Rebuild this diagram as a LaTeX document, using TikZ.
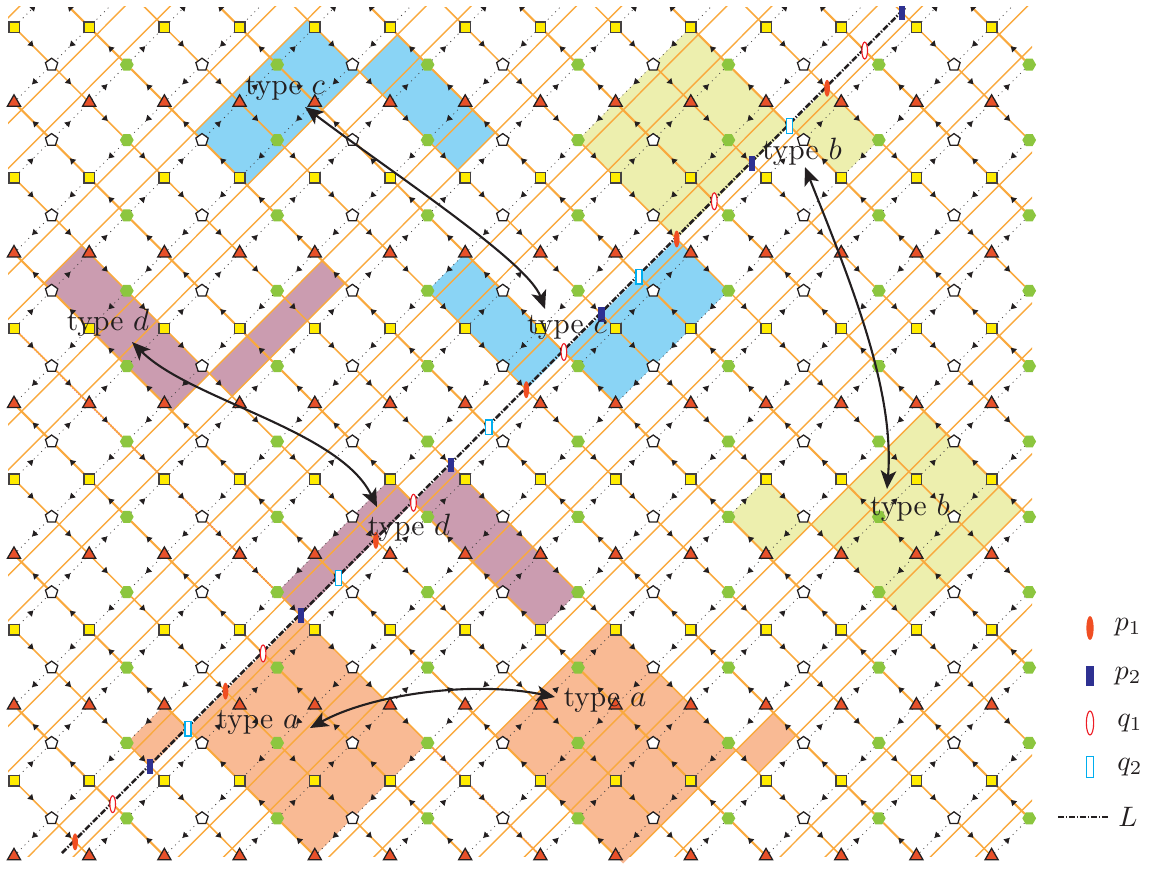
\documentclass[tikz,border=0pt]{standalone}
\usepackage{xcolor}
\usepackage{tikz}
\usetikzlibrary{shapes.geometric,arrows.meta,decorations.markings}

\definecolor{siteyellow}{HTML}{FFEC00}
\definecolor{sitered}{HTML}{E8512A}
\definecolor{sitegreen}{HTML}{8CC63F}
\definecolor{latorange}{HTML}{F9A93E}
\definecolor{regiona}{HTML}{F9BA94}
\definecolor{regionb}{HTML}{EDEFAE}
\definecolor{regionc}{HTML}{8AD4F5}
\definecolor{regiond}{HTML}{CB9CB0}
\definecolor{inkdark}{HTML}{231F20}
\definecolor{markpone}{HTML}{F04E23}
\definecolor{markptwo}{HTML}{2E3192}
\definecolor{markqone}{HTML}{ED1C24}
\definecolor{markqtwo}{HTML}{00AEEF}

\pgfdeclarelayer{fills}
\pgfdeclarelayer{lines}
\pgfsetlayers{fills,lines,main}

% s and d are the two diagonal lattice directions
\newcommand{\regionbox}[5]{%
  \fill[#1] ({14+37.6*(#2-(#4))/2},{27+37.68*(#2+(#4))/2})
    -- ({14+37.6*(#3-(#4))/2},{27+37.68*(#3+(#4))/2})
    -- ({14+37.6*(#3-(#5))/2},{27+37.68*(#3+(#5))/2})
    -- ({14+37.6*(#2-(#5))/2},{27+37.68*(#2+(#5))/2}) -- cycle;}

\begin{document}
\begin{tikzpicture}[
    x=.0125cm, y=-.0125cm,
    every node/.style={inner sep=0pt, outer sep=0pt, text=inkdark},
    site 0/.style={draw=inkdark!85, line width=.5pt, fill=siteyellow, rectangle, minimum size=3.7pt},
    site 1/.style={draw=inkdark, line width=.45pt, fill=white, regular polygon, regular polygon sides=5, minimum size=4.6pt},
    site 2/.style={draw=inkdark, line width=.45pt, fill=sitered, regular polygon, regular polygon sides=3, minimum size=5.4pt},
    site 3/.style={fill=sitegreen, regular polygon, regular polygon sides=6, minimum size=4.9pt},
    arrow mid/.style={postaction={decorate, decoration={markings,
        mark=at position .5 with {\arrow[inkdark]{Triangle[length=1.9pt,width=2.3pt]}}}}},
    down line/.style={draw=latorange, line width=.55pt, arrow mid},
    back line/.style={draw=latorange, line width=.75pt, arrow mid},
    dot line/.style={draw=inkdark!85, line width=.27pt, dash pattern=on .35pt off 1.5pt, arrow mid},
    cross line/.style={draw=latorange, line width=.5pt},
    marker p1/.style={ellipse, fill=markpone, minimum width=2pt, minimum height=6pt},
    marker p2/.style={rectangle, fill=markptwo, minimum width=2.2pt, minimum height=5.2pt},
    marker q1/.style={ellipse, draw=markqone, line width=.4pt, fill=white, minimum width=2pt, minimum height=6pt},
    marker q2/.style={rectangle, draw=markqtwo, line width=.5pt, fill=white, minimum width=2.2pt, minimum height=5.2pt},
    type label/.style={font=\fontsize{10.5}{12}\selectfont},
    swap arrow/.style={{Stealth[length=6.5pt,width=5.5pt,inset=1.6pt]}-{Stealth[length=6.5pt,width=5.5pt,inset=1.6pt]},
        draw=inkdark, fill=none, line width=.75pt}
  ]
  \useasboundingbox (0,0) rectangle (1165,869);

  % Regions
  \begin{pgfonlayer}{fills}
    \regionbox{regiona}{23.25}{30}{8}{14}
    \regionbox{regiona}{22}{23.25}{14}{16}
    \regionbox{regiona}{31.6}{38.4}{0}{6}
    \regionbox{regiona}{38.4}{39.6}{-2}{0}
    \regionbox{regionb}{18}{23.25}{-18}{-12}
    \regionbox{regionb}{23.25}{26}{-20}{-18}
    \regionbox{regionb}{32}{34.4}{-8}{-6}
    \regionbox{regionb}{34.4}{39.6}{-14}{-8}
    \regionbox{regionc}{7.6}{10.4}{-8}{-2}
    \regionbox{regionc}{10.4}{15.6}{-10}{-8}
    \regionbox{regionc}{18}{23.25}{-6}{-4}
    \regionbox{regionc}{23.25}{26}{-12}{-6}
    \regionbox{regiond}{7.6}{14.4}{4}{6}
    \regionbox{regiond}{14.4}{15.6}{-2}{4}
    \regionbox{regiond}{22}{23.25}{2}{8}
    \regionbox{regiond}{23.25}{30}{0}{2}
  \end{pgfonlayer}

  % Nodes
  \foreach \i in {1,3,...,27}
    \coordinate (v-\i--1) at ({14+37.6*\i},{27-37.68});
  \foreach \j in {0,...,22}{
    \foreach \i in {0,...,27}{
      \pgfmathtruncatemacro\even{mod(\i+\j,2)}
      \ifnum\even=0
        \pgfmathtruncatemacro\kind{mod(\j,2)==1 ? mod(\i,4) : mod(\j,4)}
        \node[site \kind] (v-\i-\j) at ({14+37.6*\i},{27+37.68*\j}) {};
      \fi
    }
  }

  % Edges
  \begin{pgfonlayer}{lines}
    \begin{scope}
      \clip (8,6) rectangle (1032,856);
      \foreach \s in {-0.4,2.4,3.6,6.4,7.6,10.4,11.6,14.4,15.6,18.4,19.6,22.4,23.6,26.4,27.6,30.4,31.6,34.4,35.6,38.4,39.6,42.4,43.6,46.4,47.6}{
        \coordinate (cl) at ({14+37.6*(\s+30)/2},{27+37.68*(\s-30)/2});
        \coordinate (cr) at ({14+37.6*(\s-30)/2},{27+37.68*(\s+30)/2});
        \draw[cross line] (cl) -- (cr);
      }
    \end{scope}
    % thin red trace along one lattice line
    \draw[magenta!70!red, line width=.6pt, dash pattern=on .4pt off .6pt]
      (v-0-8) -- (v-7-15);
    \draw[magenta!70!red, line width=.6pt, dash pattern=on .4pt off .6pt]
      (v-11-19) -- (v-14-22);
    \begin{scope}
      \clip (14,7) rectangle (1032,860);
      \foreach \j in {-1,...,21}{
        \foreach \i in {0,...,26}{
          \pgfmathtruncatemacro\even{mod(\i+\j+2,2)}
          \ifnum\even=0
            \pgfmathtruncatemacro\ii{\i+1}
            \pgfmathtruncatemacro\jj{\j+1}
            \pgfmathtruncatemacro\dirn{mod(\j-\i+40,4)}
            \ifnum\dirn=0
              \draw[down line] (v-\i-\j) -- (v-\ii-\jj);
            \else
              \draw[back line] (v-\ii-\jj) -- (v-\i-\j);
            \fi
          \fi
        }
      }
      \foreach \j in {0,...,22}{
        \foreach \i in {0,...,26}{
          \pgfmathtruncatemacro\even{mod(\i+\j,2)}
          \ifnum\even=0
            \pgfmathtruncatemacro\ii{\i+1}
            \pgfmathtruncatemacro\jj{\j-1}
            \pgfmathtruncatemacro\dirn{mod(\i+\j,4)}
            \ifnum\dirn=0
              \draw[dot line] (v-\i-\j) -- (v-\ii-\jj);
            \else
              \draw[dot line] (v-\ii-\jj) -- (v-\i-\j);
            \fi
          \fi
        }
      }
    \end{scope}
  \end{pgfonlayer}

  % Line L and its points
  \coordinate (Lbot) at (62,853);
  \coordinate (Ltop) at (905,8);
  \draw[inkdark, line width=.9pt, dash pattern=on 2.2pt off .6pt on .5pt off .6pt] (Lbot) -- (Ltop);
  \foreach \d/\kind in {20/p1,18/q1,16/p2,14/q2,12/p1,10/q1,8/p2,6/q2,4/p1,2/q1,0/p2,
                        -2/q2,-4/p1,-6/q1,-8/p2,-10/q2,-12/p1,-14/q1,-16/p2,-18/q2,-20/p1,-22/q1,-24/p2}
    \node[marker \kind] (m\d) at ({14+37.6*(23.25-(\d))/2},{27+37.68*(23.25+(\d))/2}) {};

  % Labels
  \node[type label] (ctop) at (285,88) {type $c$};
  \node[type label] (cmid) at (567,327) {type $c$};
  \node[type label] (btop) at (802,152) {type $b$};
  \node[type label] (bbot) at (910,508) {type $b$};
  \node[type label] (dtop) at (108,323) {type $d$};
  \node[type label] (dmid) at (409,528) {type $d$};
  \node[type label] (aleft) at (258,722) {type $a$};
  \node[type label] (aright) at (605,700) {type $a$};

  % Arrows between types
  \coordinate (ctip) at (305,107);
  \coordinate (ctap) at (545,309);
  \coordinate (btip) at (805,167);
  \coordinate (btap) at (887,489);
  \coordinate (dtip) at (132,342);
  \coordinate (dtap) at (377,507);
  \coordinate (atip) at (310,728);
  \coordinate (atap) at (555,697);
  \draw[swap arrow] (ctip) .. controls (395,175) and (528,262) .. (ctap);
  \draw[swap arrow] (btip) .. controls (850,280) and (895,390) .. (btap);
  \draw[swap arrow] (dtip) .. controls (190,400) and (340,430) .. (dtap);
  \draw[swap arrow] (atip) .. controls (370,695) and (470,680) .. (atap);

  % Legend
  \node[marker p1, minimum width=2.6pt, minimum height=8.5pt] (kp1) at (1090,628) {};
  \node[marker p2, minimum width=2.6pt, minimum height=7.4pt] (kp2) at (1090,676) {};
  \node[marker q1, minimum width=2.6pt, minimum height=8.5pt] (kq1) at (1090,723) {};
  \node[marker q2, minimum width=2.6pt, minimum height=7.4pt] (kq2) at (1090,767) {};
  \node (tp1) at (1128,627) {$p_1$};
  \node (tp2) at (1128,676) {$p_2$};
  \node (tq1) at (1130,723) {$q_1$};
  \node (tq2) at (1130,767) {$q_2$};
  \coordinate (La) at (1058,817);
  \coordinate (Lb) at (1108,817);
  \draw[inkdark, line width=.9pt, dash pattern=on 2.2pt off .6pt on .5pt off .6pt] (La) -- (Lb);
  \node (tL) at (1128,817) {$L$};
\end{tikzpicture}
\end{document}
